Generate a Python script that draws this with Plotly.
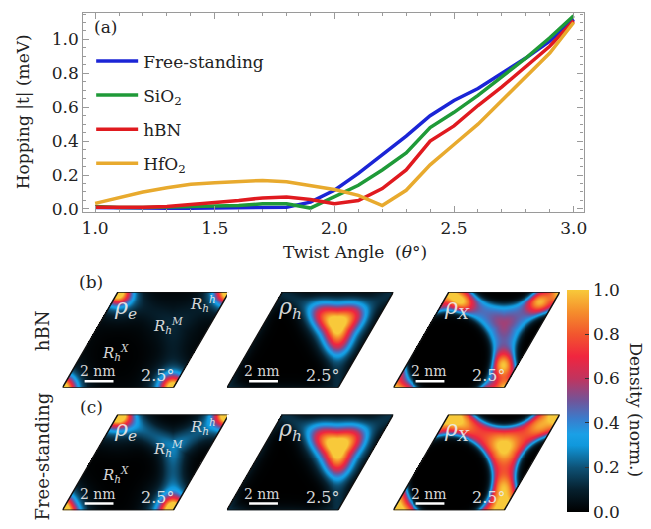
import numpy as np
import plotly.graph_objects as go

W, H = 651, 529
FONT = "DejaVu Serif"

# ---------------- panel (a) data ----------------
angles = [1.0, 1.1, 1.2, 1.3, 1.4, 1.5, 1.6, 1.7, 1.8, 1.9, 2.0,
          2.1, 2.2, 2.3, 2.4, 2.5, 2.6, 2.7, 2.8, 2.9, 3.0]
hop_free = [0.008, 0.005, 0.004, 0.004, 0.004, 0.005, 0.006, 0.008, 0.01, 0.04, 0.11,
            0.21, 0.32, 0.43, 0.55, 0.64, 0.71, 0.80, 0.89, 0.99, 1.12]
hop_sio2 = [0.015, 0.008, 0.008, 0.01, 0.012, 0.015, 0.02, 0.03, 0.03, 0.005, 0.07,
            0.14, 0.23, 0.33, 0.48, 0.57, 0.67, 0.78, 0.89, 1.01, 1.14]
hop_hbn = [0.01, 0.008, 0.01, 0.015, 0.025, 0.035, 0.05, 0.065, 0.07, 0.055, 0.03,
           0.05, 0.12, 0.23, 0.40, 0.49, 0.61, 0.72, 0.84, 0.96, 1.11]
hop_hfo2 = [0.033, 0.068, 0.10, 0.125, 0.145, 0.155, 0.163, 0.168, 0.16, 0.14, 0.115,
            0.08, 0.02, 0.11, 0.26, 0.38, 0.50, 0.64, 0.78, 0.92, 1.10]
series_names = ["Free-standing", "SiO<sub>2</sub>", "hBN", "HfO<sub>2</sub>"]
series_colors = ["#1b25d6", "#1f9a38", "#e01a1f", "#e8aa2e"]
x_ticks = [1.0, 1.5, 2.0, 2.5, 3.0]
y_ticks = [0.0, 0.2, 0.4, 0.6, 0.8, 1.0]

# ---------------- density maps (lattice coordinates u, v) ----------------
# features: (u, v, amplitude, width)
rho_e_hbn_peaks = [(0.0, 0.0, 0.92, 0.08), (0.0, 0.0, 0.22, 0.15), (2/3, 2/3, 0.07, 0.18)]
rho_e_hbn_arms = (0.04, 0.07)
rho_e_free_peaks = [(0.0, 0.0, 0.92, 0.082), (0.0, 0.0, 0.22, 0.16), (2/3, 2/3, 0.10, 0.12)]
rho_e_free_arms = (0.17, 0.07)

rho_h_hbn_peaks = [(2/3, 2/3, 0.80, 0.115), (0.767, 0.467, 0.36, 0.095),
                   (0.467, 0.767, 0.36, 0.095), (0.767, 0.767, 0.36, 0.095)]
rho_h_hbn_arms = (0.12, 0.07)
rho_h_free_peaks = [(2/3, 2/3, 0.80, 0.12), (0.767, 0.467, 0.37, 0.097),
                    (0.467, 0.767, 0.37, 0.097), (0.767, 0.767, 0.37, 0.097)]
rho_h_free_arms = (0.13, 0.07)

rho_x_hbn_base = 0.30
rho_x_hbn_peaks = [(2/3, 2/3, 0.14, 0.10), (0.87, 0.24, 0.58, 0.085),
                   (0.16, 0.90, 0.58, 0.085), (0.87, 0.90, 0.55, 0.085), (0.0, 0.0, 0.38, 0.065)]
rho_x_hbn_arms = (0.12, 0.07)
rho_x_free_base = 0.58
rho_x_free_peaks = [(2/3, 2/3, 0.32, 0.10), (0.88, 0.23, 0.25, 0.08),
                    (0.18, 0.90, 0.18, 0.08), (0.88, 0.88, 0.2, 0.08), (0.0, 0.0, 0.45, 0.08)]
rho_x_free_arms = (0.15, 0.09)
hole_radius = 0.40

colorbar_ticks = [0.0, 0.2, 0.4, 0.6, 0.8, 1.0]
density_scale = [[0.0, "#000000"], [0.1, "#06202e"], [0.2, "#0e5276"], [0.3, "#1098dc"],
                 [0.35, "#1aa0e6"], [0.42, "#3a7ccc"], [0.5, "#70559a"], [0.6, "#c0345f"],
                 [0.7, "#f0253f"], [0.8, "#f2562e"], [0.9, "#f58d2c"], [1.0, "#f8c93a"]]

SQ = np.sqrt(3) / 2


def cart(u, v):
    return u + 0.5 * v, SQ * v


NX, NY = 170, 98
xs = np.linspace(0, 1.5, NX)
ys = np.linspace(0, SQ, NY)
XX, YY = np.meshgrid(xs, ys)
VV = YY / SQ
UU = XX - 0.5 * VV
inside = (UU >= -0.004) & (UU <= 1.004) & (VV >= -0.004) & (VV <= 1.004)
IMG = range(-2, 3)


def pgauss(u0, v0, amp, sig):
    s = np.zeros_like(XX)
    for n in IMG:
        for m in IMG:
            cx, cy = cart(u0 + n, v0 + m)
            s += amp * np.exp(-((XX - cx) ** 2 + (YY - cy) ** 2) / (2 * sig ** 2))
    return s


def pdist(u0, v0):
    d = np.full_like(XX, 10.0)
    for n in IMG:
        for m in IMG:
            cx, cy = cart(u0 + n, v0 + m)
            d = np.minimum(d, np.hypot(XX - cx, YY - cy))
    return d


def seg_dist(p, q):
    px, py = p
    qx, qy = q
    dx, dy = qx - px, qy - py
    t = np.clip(((XX - px) * dx + (YY - py) * dy) / (dx * dx + dy * dy), 0, 1)
    return np.hypot(XX - (px + t * dx), YY - (py + t * dy))


def arms(amp, sig):
    d = np.full_like(XX, 10.0)
    ends = [(1, 1), (0, 1), (1, 0)]
    for n in IMG:
        for m in IMG:
            p = cart(2/3 + n, 2/3 + m)
            for (ea, eb) in ends:
                q = cart(ea + n, eb + m)
                d = np.minimum(d, seg_dist(p, q))
    return amp * np.exp(-d ** 2 / (2 * sig ** 2))


def density(peaks, arm, base=0.0, hole=None):
    z = base + arms(*arm)
    for p in peaks:
        z = z + pgauss(*p)
    if hole is not None:
        d = pdist(1/3, 1/3)
        z = z / (1 + np.exp(-(d - hole) / 0.019))
    z = np.clip(z, 0, 1)
    return np.where(inside, z, np.nan)


maps = [
    density(rho_e_hbn_peaks, rho_e_hbn_arms),
    density(rho_h_hbn_peaks, rho_h_hbn_arms),
    density(rho_x_hbn_peaks, rho_x_hbn_arms, rho_x_hbn_base, hole_radius),
    density(rho_e_free_peaks, rho_e_free_arms),
    density(rho_h_free_peaks, rho_h_free_arms),
    density(rho_x_free_peaks, rho_x_free_arms, rho_x_free_base, hole_radius),
]

fig = go.Figure()

# ---------------- panel (a) ----------------
for name, col, vals in zip(series_names, series_colors,
                           [hop_free, hop_sio2, hop_hbn, hop_hfo2]):
    fig.add_trace(go.Scatter(x=angles, y=vals, mode="lines", name=name,
                             legendgroup=name,
                             line=dict(color=col, width=3.5), xaxis="x", yaxis="y"))


def px_x(p):
    return p / W


def px_y(p):
    return 1 - p / H


axis_common = dict(showline=True, linecolor="#9a9a9a", linewidth=1.2, mirror="allticks",
                   ticks="inside", ticklen=6, tickcolor="#9a9a9a", showgrid=False,
                   zeroline=False, tickfont=dict(family=FONT, size=17, color="#222"))
fig.update_layout(
    xaxis=dict(domain=[px_x(82), px_x(587)], range=[0.9503, 3.0414], anchor="y",
               tickvals=x_ticks, tickformat=".1f",
               minor=dict(dtick=0.1, ticks="inside", ticklen=3, tickcolor="#9a9a9a"),
               **axis_common),
    yaxis=dict(domain=[px_y(215), px_y(13)], range=[-0.019, 1.157], anchor="x",
               tickvals=y_ticks, tickformat=".1f",
               minor=dict(dtick=0.05, ticks="inside", ticklen=3, tickcolor="#9a9a9a"),
               **axis_common),
)

# ---------------- density panels ----------------
panel_left = [61, 227, 395]
row_bottom = [393, 517]
PXU = 112.0
labels_rho = ["ρ<sub>e</sub>", "ρ<sub>h</sub>", "ρ<sub>X</sub>"]
annotations = []
shapes = []
k = 0
for r in range(2):
    for c in range(3):
        ax = k + 2
        x0 = panel_left[c]
        yb = row_bottom[r]
        xd = [px_x(x0), px_x(x0 + 1.5 * PXU)]
        yd = [px_y(yb), px_y(yb - SQ * PXU)]
        fig.update_layout(**{
            f"xaxis{ax}": dict(domain=xd, range=[0, 1.5], visible=False, anchor=f"y{ax}",
                               fixedrange=True),
            f"yaxis{ax}": dict(domain=yd, range=[0, SQ], visible=False, anchor=f"x{ax}",
                               fixedrange=True),
        })
        fig.add_trace(go.Heatmap(x=xs, y=ys, z=maps[k], coloraxis="coloraxis",
                                 xaxis=f"x{ax}", yaxis=f"y{ax}", hoverinfo="skip",
                                 showlegend=False))
        fig.add_trace(go.Scatter(x=[0, 1, 1.5, 0.5, 0], y=[0, 0, SQ, SQ, 0], mode="lines",
                                 line=dict(color="#111", width=1.5), cliponaxis=False,
                                 xaxis=f"x{ax}", yaxis=f"y{ax}", hoverinfo="skip",
                                 showlegend=False))
        xr, yr = f"x{ax}", f"y{ax}"
        tc = "rgba(235,235,235,0.92)"
        annotations.append(dict(x=0.57, y=0.72, xref=xr, yref=yr, showarrow=False,
                                xanchor="center", yanchor="middle",
                                text=f"<i>{labels_rho[c]}</i>",
                                font=dict(family=FONT, size=22, color=tc)))
        annotations.append(dict(x=0.32, y=0.15, xref=xr, yref=yr, showarrow=False,
                                xanchor="center", yanchor="middle",
                                text="2 nm", font=dict(family=FONT, size=14, color=tc)))
        annotations.append(dict(x=0.86, y=0.11, xref=xr, yref=yr, showarrow=False,
                                xanchor="center", yanchor="middle",
                                text="2.5°", font=dict(family=FONT, size=16, color=tc)))
        shapes.append(dict(type="line", xref=xr, yref=yr, x0=0.2, x1=0.46, y0=0.06, y1=0.06,
                           line=dict(color="white", width=2.5)))
        if c == 0:
            for txt, ux, uy in [("X", 0.48, 0.32), ("M", 0.955, 0.56), ("h", 1.27, 0.76)]:
                annotations.append(dict(x=ux, y=uy, xref=xr, yref=yr, showarrow=False,
                                        xanchor="center", yanchor="middle",
                                        text=f"<i>R</i><sub><i>h</i></sub><sup><i>{txt}</i></sup>",
                                        font=dict(family=FONT, size=15, color=tc)))
        k += 1

# panel letters, row labels, axis titles
for txt, x, y, size, ang in [("(a)", 104, 27, 17, 0), ("(b)", 90, 286, 17, 0),
                             ("(c)", 90, 412, 17, 0), ("hBN", 41, 335, 18, -90),
                             ("Free-standing", 41, 463, 18, -90),
                             ("Twist Angle  (<i>θ</i>°)", 356, 255, 17, 0),
                             ("Hopping |t| (meV)", 21, 113, 17, -90),
                             ("Density (norm.)", 640, 415, 17, 90)]:
    annotations.append(dict(x=px_x(x), y=px_y(y), xref="paper", yref="paper", text=txt,
                            showarrow=False, textangle=ang, xanchor="center",
                            yanchor="middle",
                            font=dict(family=FONT, size=size, color="#222")))

fig.update_layout(
    width=W, height=H, margin=dict(l=0, r=0, t=0, b=0),
    paper_bgcolor="white", plot_bgcolor="white",
    font=dict(family=FONT, color="#222"),
    coloraxis=dict(colorscale=density_scale, cmin=0, cmax=1,
                   colorbar=dict(x=px_x(570), xanchor="left", y=px_y(406), yanchor="middle",
                                 thickness=22, thicknessmode="pixels", len=222,
                                 lenmode="pixels", outlinewidth=0, xpad=0, ypad=0,
                                 tickvals=colorbar_ticks, tickformat=".1f",
                                 ticks="inside", ticklen=4, tickcolor="#333",
                                 tickfont=dict(family=FONT, size=17, color="#222"))),
    legend=dict(x=px_x(90), y=px_y(44), xanchor="left", yanchor="top",
                bgcolor="rgba(0,0,0,0)", tracegroupgap=9, itemwidth=42,
                font=dict(family=FONT, size=17, color="#222")),
    annotations=annotations, shapes=shapes,
)

fig.write_html("out.html")
